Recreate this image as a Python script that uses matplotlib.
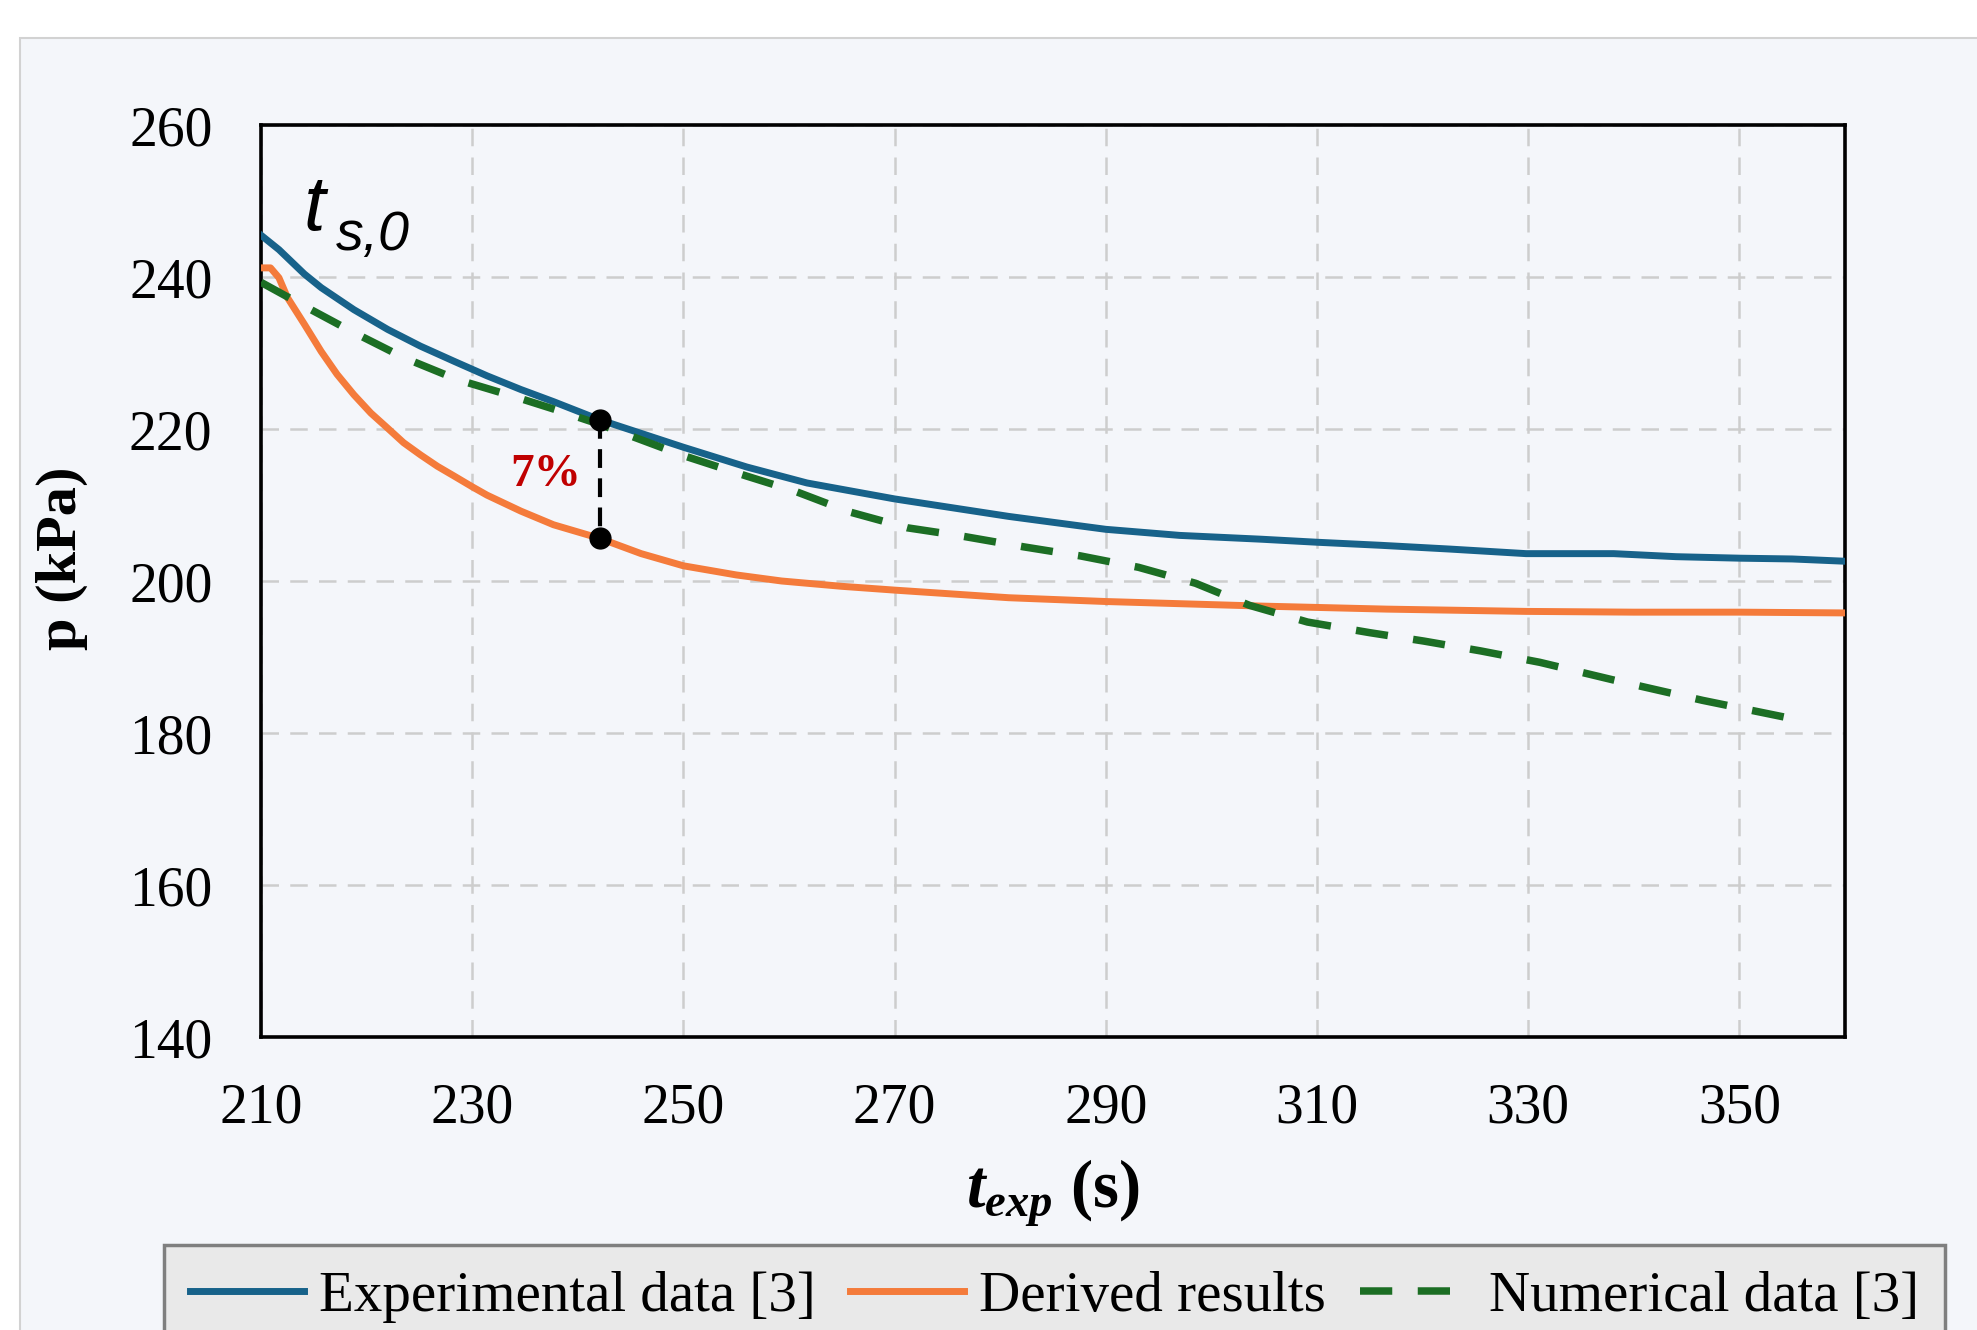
import matplotlib
matplotlib.use('Agg')
import matplotlib.pyplot as plt
from matplotlib.patches import Rectangle

plt.rcParams['font.family'] = ['Liberation Serif', 'DejaVu Serif']
plt.rcParams['mathtext.fontset'] = 'custom'
plt.rcParams['mathtext.it'] = 'Liberation Serif:italic:bold'
plt.rcParams['mathtext.rm'] = 'Liberation Serif:bold'

# experimental data [3]
exp_t = [210, 211.7, 214.1, 215.7, 218.8, 222.0, 225.1, 228.3, 231.4, 234.6, 237.7,
         242.1, 250, 256, 261.7, 270, 280.8, 290, 297, 304.7, 310, 316, 322.6,
         329.8, 338.1, 344, 350.1, 355, 360]
exp_p = [245.5, 243.6, 240.4, 238.6, 235.7, 233.1, 230.9, 228.9, 227.0, 225.2, 223.6,
         221.2, 217.6, 215.0, 212.9, 210.8, 208.5, 206.8, 206.0, 205.5, 205.1, 204.7,
         204.2, 203.6, 203.6, 203.2, 203.0, 202.9, 202.6]

# derived results
der_t = [210, 210.9, 211.7, 212.5, 214.1, 215.7, 217.2, 218.8, 220.4, 222.0, 223.5,
         225.1, 226.7, 228.3, 230, 231.4, 234.6, 237.7, 242.1, 246, 250, 255, 259.3,
         265, 270, 280.8, 290, 304.7, 316.6, 329.8, 340, 350.1, 360]
der_p = [241.2, 241.2, 239.9, 237.3, 233.8, 230.2, 227.2, 224.5, 222.1, 220.1, 218.2,
         216.6, 215.1, 213.8, 212.4, 211.3, 209.2, 207.4, 205.6, 203.6, 202.0, 200.8,
         200.0, 199.3, 198.8, 197.8, 197.3, 196.7, 196.3, 196.0, 195.9, 195.9, 195.8]

# numerical data [3]
num_t = [210, 213.8, 218.5, 223.5, 228.6, 233.9, 238, 242.1, 250, 256, 260.6, 265.7,
         271.2, 276, 282.2, 287.6, 293.1, 298.5, 303.6, 309.1, 315, 320.1, 325.5,
         331.1, 338, 346.5, 354.6]
num_p = [239.3, 236.4, 232.9, 229.4, 226.5, 224.3, 222.5, 220.6, 216.5, 213.8, 211.8,
         209.1, 207.0, 206.0, 204.5, 203.3, 201.8, 199.7, 196.8, 194.6, 193.2, 192.1,
         190.8, 189.3, 187.0, 184.3, 182.0]

# 7% gap marker
gap_t = [242.1, 242.1]
gap_p = [221.2, 205.6]

xticks = [210, 230, 250, 270, 290, 310, 330, 350]
yticks = [140, 160, 180, 200, 220, 240, 260]

W, H = 1977, 1330
fig = plt.figure(figsize=(W / 100, H / 100), dpi=100, facecolor='white')
fig.add_artist(Rectangle((20 / W, -0.01), 1.0, 1 - 38 / H + 0.01,
                         transform=fig.transFigure, facecolor='#F4F6FA',
                         edgecolor='#D2D2D2', lw=1.5, zorder=-1))

ax = fig.add_axes([261 / W, 1 - 1037 / H, 1584 / W, 912 / H])
ax.set_facecolor('#F4F6FA')

ax.plot(exp_t, exp_p, color='#17628A', lw=5.0, label='Experimental data [3]',
        zorder=3, solid_joinstyle='round')
ax.plot(der_t, der_p, color='#F47B3B', lw=5.0, label='Derived results',
        zorder=3, solid_joinstyle='round')
ax.plot(num_t, num_p, color='#1C6E24', lw=5.4, dashes=(4.3, 3.4),
        label='Numerical data [3]', zorder=4)

ax.plot(gap_t, gap_p, color='black', lw=3, dashes=(4.5, 2.5), zorder=5)
ax.plot(gap_t, gap_p, 'o', color='black', ms=15, zorder=6)
ax.text(236.96, 213.95, '7%', color='#C00000', fontsize=34, fontweight='bold',
        ha='center', va='center', zorder=6)

# t_s,0 label
ax.text(214.0, 246.2, 't', fontsize=56, family='Liberation Sans', style='italic',
        ha='left', va='baseline', zorder=6)
ax.text(217.1, 243.55, 's,0', fontsize=40, family='Liberation Sans', style='italic',
        ha='left', va='baseline', zorder=6)

ax.set_xlim(210, 360)
ax.set_ylim(140, 260)
ax.set_xticks(xticks)
ax.set_yticks(yticks)
ax.tick_params(axis='both', length=0, labelsize=40)
ax.tick_params(axis='x', pad=33)
ax.tick_params(axis='y', pad=35)
ax.grid(True, color='#CDCDCD', lw=1.8, dashes=(7, 4.5))
ax.set_axisbelow(True)
for s in ax.spines.values():
    s.set_color('black')
    s.set_linewidth(2.6)

ax.set_ylabel('p (kPa)', fontsize=42, fontweight='bold')
ax.yaxis.set_label_coords(-0.109, 0.525)
ax.set_xlabel(r'$t_{exp}$ (s)', fontsize=48, fontweight='bold', labelpad=16)

leg = ax.legend(loc='upper left', bbox_to_anchor=(164 / W, 1 - 1245 / H),
                bbox_transform=fig.transFigure, ncol=3, fontsize=41,
                frameon=True, fancybox=False, framealpha=1,
                facecolor='#E9E9E9', edgecolor='#7F7F7F', borderaxespad=0,
                handlelength=2.0, handletextpad=0.27, columnspacing=0.6,
                borderpad=0.45)
leg.get_frame().set_linewidth(2.5)

fig.savefig('out.png', dpi=100, facecolor='white')
